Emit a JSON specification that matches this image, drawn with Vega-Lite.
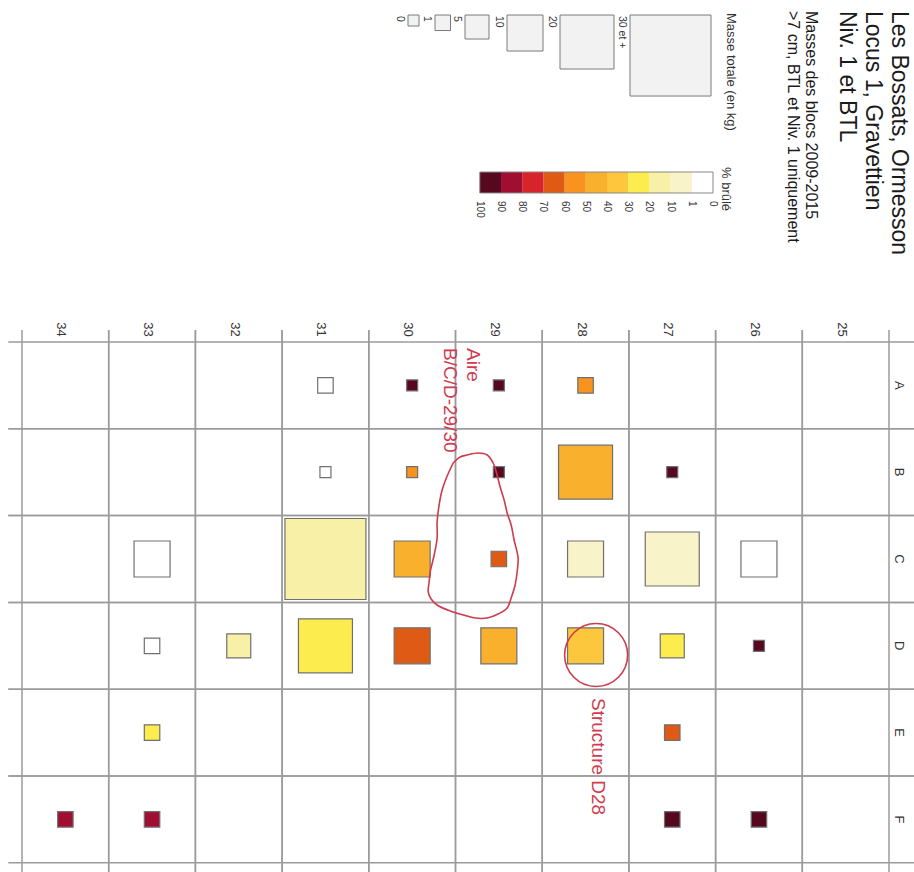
{
  "$schema": "https://vega.github.io/schema/vega-lite/v6.json",
  "width": 914,
  "height": 872,
  "autosize": {"type": "none"},
  "padding": 0,
  "background": "white",
  "config": {"view": {"stroke": null}, "font": "Liberation Sans", "axis": {"disable": true}},
  "title": {
    "text": ["Les Bossats, Ormesson", "Locus 1, Gravettien", "Niv. 1 et BTL"],
    "subtitle": ["Masses des blocs 2009-2015", ">7 cm, BTL et Niv. 1 uniquement"],
    "orient": "right",
    "anchor": "start",
    "frame": "group",
    "offset": -131,
    "dx": 11,
    "font": "Liberation Sans",
    "fontSize": 23,
    "fontWeight": "normal",
    "color": "#1a1a1a",
    "lineHeight": 26,
    "subtitleFont": "Liberation Sans",
    "subtitleFontSize": 16,
    "subtitleColor": "#1a1a1a",
    "subtitleLineHeight": 18,
    "subtitlePadding": 16
  },
  "datasets": {
    "blocs": [
      {"col": 28, "ligne": "A", "masse": "1-5", "brule": "50-60"},
      {"col": 29, "ligne": "A", "masse": "0-1", "brule": "90-100"},
      {"col": 30, "ligne": "A", "masse": "0-1", "brule": "90-100"},
      {"col": 31, "ligne": "A", "masse": "1-5", "brule": "0"},
      {"col": 27, "ligne": "B", "masse": "0-1", "brule": "90-100"},
      {"col": 28, "ligne": "B", "masse": "20-30", "brule": "40-50"},
      {"col": 29, "ligne": "B", "masse": "0-1", "brule": "90-100"},
      {"col": 30, "ligne": "B", "masse": "0-1", "brule": "50-60"},
      {"col": 31, "ligne": "B", "masse": "0-1", "brule": "0"},
      {"col": 26, "ligne": "C", "masse": "10-20", "brule": "0"},
      {"col": 27, "ligne": "C", "masse": "20-30", "brule": "1-10"},
      {"col": 28, "ligne": "C", "masse": "10-20", "brule": "1-10"},
      {"col": 29, "ligne": "C", "masse": "1-5", "brule": "60-70"},
      {"col": 30, "ligne": "C", "masse": "10-20", "brule": "40-50"},
      {"col": 31, "ligne": "C", "masse": "30+", "brule": "10-20"},
      {"col": 33, "ligne": "C", "masse": "10-20", "brule": "0"},
      {"col": 26, "ligne": "D", "masse": "0-1", "brule": "90-100"},
      {"col": 27, "ligne": "D", "masse": "5-10", "brule": "20-30"},
      {"col": 28, "ligne": "D", "masse": "10-20", "brule": "30-40"},
      {"col": 29, "ligne": "D", "masse": "10-20", "brule": "40-50"},
      {"col": 30, "ligne": "D", "masse": "10-20", "brule": "60-70"},
      {"col": 31, "ligne": "D", "masse": "20-30", "brule": "20-30"},
      {"col": 32, "ligne": "D", "masse": "5-10", "brule": "10-20"},
      {"col": 33, "ligne": "D", "masse": "1-5", "brule": "0"},
      {"col": 27, "ligne": "E", "masse": "1-5", "brule": "60-70"},
      {"col": 33, "ligne": "E", "masse": "1-5", "brule": "20-30"},
      {"col": 26, "ligne": "F", "masse": "1-5", "brule": "90-100"},
      {"col": 27, "ligne": "F", "masse": "1-5", "brule": "90-100"},
      {"col": 33, "ligne": "F", "masse": "1-5", "brule": "80-90"},
      {"col": 34, "ligne": "F", "masse": "1-5", "brule": "80-90"}
    ],
    "lignes": [
      {"ligne": "A", "rang": 1}, {"ligne": "B", "rang": 2}, {"ligne": "C", "rang": 3},
      {"ligne": "D", "rang": 4}, {"ligne": "E", "rang": 5}, {"ligne": "F", "rang": 6}
    ],
    "colonnes": [
      {"col": 25}, {"col": 26}, {"col": 27}, {"col": 28}, {"col": 29},
      {"col": 30}, {"col": 31}, {"col": 32}, {"col": 33}, {"col": 34}
    ],
    "notes": [
      {"texte": "Aire\nB/C/D-29/30", "col": 29.2, "rang": 0.569},
      {"texte": "Structure D28", "col": 27.758, "rang": 4.601}
    ],
    "reperes": [
      {"nom": "Structure D28", "col": 27.878, "rang": 4.106}
    ],
    "boucle": [
      {"ordre": 1, "col": 29.527, "rang": 1.894},
      {"ordre": 2, "col": 29.446, "rang": 1.825},
      {"ordre": 3, "col": 29.366, "rang": 1.802},
      {"ordre": 4, "col": 29.239, "rang": 1.779},
      {"ordre": 5, "col": 29.135, "rang": 1.802},
      {"ordre": 6, "col": 29.066, "rang": 1.894},
      {"ordre": 7, "col": 29.02, "rang": 2.032},
      {"ordre": 8, "col": 28.985, "rang": 2.171},
      {"ordre": 9, "col": 28.939, "rang": 2.32},
      {"ordre": 10, "col": 28.904, "rang": 2.47},
      {"ordre": 11, "col": 28.858, "rang": 2.608},
      {"ordre": 12, "col": 28.824, "rang": 2.781},
      {"ordre": 13, "col": 28.778, "rang": 2.988},
      {"ordre": 14, "col": 28.789, "rang": 3.15},
      {"ordre": 15, "col": 28.812, "rang": 3.3},
      {"ordre": 16, "col": 28.858, "rang": 3.449},
      {"ordre": 17, "col": 28.904, "rang": 3.565},
      {"ordre": 18, "col": 29.008, "rang": 3.634},
      {"ordre": 19, "col": 29.135, "rang": 3.68},
      {"ordre": 20, "col": 29.273, "rang": 3.68},
      {"ordre": 21, "col": 29.412, "rang": 3.645},
      {"ordre": 22, "col": 29.562, "rang": 3.599},
      {"ordre": 23, "col": 29.712, "rang": 3.53},
      {"ordre": 24, "col": 29.781, "rang": 3.461},
      {"ordre": 25, "col": 29.815, "rang": 3.38},
      {"ordre": 26, "col": 29.804, "rang": 3.265},
      {"ordre": 27, "col": 29.792, "rang": 3.15},
      {"ordre": 28, "col": 29.746, "rang": 2.954},
      {"ordre": 29, "col": 29.712, "rang": 2.758},
      {"ordre": 30, "col": 29.712, "rang": 2.574},
      {"ordre": 31, "col": 29.689, "rang": 2.378},
      {"ordre": 32, "col": 29.654, "rang": 2.205},
      {"ordre": 33, "col": 29.596, "rang": 2.044},
      {"ordre": 34, "col": 29.527, "rang": 1.894}
    ],
    "classes_masse": [
      {"masse": "0-1", "seuil": 0, "etiquette": "0"},
      {"masse": "1-5", "seuil": 1, "etiquette": "1"},
      {"masse": "5-10", "seuil": 5, "etiquette": "5"},
      {"masse": "10-20", "seuil": 10, "etiquette": "10"},
      {"masse": "20-30", "seuil": 20, "etiquette": "20"},
      {"masse": "30+", "seuil": 30, "etiquette": "30 et +"}
    ],
    "classes_brule": [
      {"brule": "0", "de": 0, "a": 1},
      {"brule": "1-10", "de": 1, "a": 10},
      {"brule": "10-20", "de": 10, "a": 20},
      {"brule": "20-30", "de": 20, "a": 30},
      {"brule": "30-40", "de": 30, "a": 40},
      {"brule": "40-50", "de": 40, "a": 50},
      {"brule": "50-60", "de": 50, "a": 60},
      {"brule": "60-70", "de": 60, "a": 70},
      {"brule": "70-80", "de": 70, "a": 80},
      {"brule": "80-90", "de": 80, "a": 90},
      {"brule": "90-100", "de": 90, "a": 100}
    ],
    "graduations": [
      {"pct": 0}, {"pct": 1}, {"pct": 10}, {"pct": 20}, {"pct": 30}, {"pct": 40},
      {"pct": 50}, {"pct": 60}, {"pct": 70}, {"pct": 80}, {"pct": 90}, {"pct": 100}
    ]
  },
  "layer": [
    {
      "layer": [
        {
          "data": {"name": "lignes"},
          "transform": [{"calculate": "datum.rang - 0.5", "as": "bord"}],
          "mark": {"type": "rule", "color": "#9b9b9b", "strokeWidth": 1.5},
          "encoding": {
            "y": {"field": "bord", "type": "quantitative", "axis": null, "scale": {"domain": [0.5, 6.5], "range": [342, 862.8], "nice": false, "zero": false}},
            "x": {"datum": 34.658, "type": "quantitative", "axis": null, "scale": {"domain": [24.5, 34.5], "range": [889, 22], "nice": false, "zero": false}},
            "x2": {"datum": 24.2}
          }
        },
        {
          "data": {"name": "lignes"},
          "transform": [{"calculate": "datum.rang + 0.5", "as": "bord"}],
          "mark": {"type": "rule", "color": "#9b9b9b", "strokeWidth": 1.5},
          "encoding": {
            "y": {"field": "bord", "type": "quantitative", "axis": null},
            "x": {"datum": 34.658, "type": "quantitative", "axis": null},
            "x2": {"datum": 24.2}
          }
        },
        {
          "data": {"name": "colonnes"},
          "transform": [{"calculate": "datum.col - 0.5", "as": "bord"}],
          "mark": {"type": "rule", "color": "#9b9b9b", "strokeWidth": 1.5},
          "encoding": {
            "x": {"field": "bord", "type": "quantitative", "axis": null},
            "y": {"datum": 0.362, "type": "quantitative", "axis": null},
            "y2": {"datum": 7}
          }
        },
        {
          "data": {"name": "colonnes"},
          "transform": [{"calculate": "datum.col + 0.5", "as": "bord"}],
          "mark": {"type": "rule", "color": "#9b9b9b", "strokeWidth": 1.5},
          "encoding": {
            "x": {"field": "bord", "type": "quantitative", "axis": null},
            "y": {"datum": 0.362, "type": "quantitative", "axis": null},
            "y2": {"datum": 7}
          }
        },
        {
          "data": {"name": "blocs"},
          "transform": [
            {"lookup": "ligne", "from": {"data": {"name": "lignes"}, "key": "ligne", "fields": ["rang"]}},
            {"lookup": "masse", "from": {"data": {"name": "classes_masse"}, "key": "masse", "fields": ["seuil"]}}
          ],
          "mark": {"type": "point", "shape": "square", "filled": true, "opacity": 1, "stroke": "#707070", "strokeWidth": 1.2},
          "encoding": {
            "x": {"field": "col", "type": "quantitative", "axis": null},
            "y": {"field": "rang", "type": "quantitative", "axis": null},
            "size": {"field": "seuil", "type": "quantitative", "legend": null,
              "scale": {"domain": [0, 1, 5, 10, 20, 30], "range": [121, 240, 576, 1296, 2916, 6561], "nice": false, "zero": false}},
            "color": {"field": "brule", "type": "ordinal", "legend": null,
              "scale": {"domain": ["0", "1-10", "10-20", "20-30", "30-40", "40-50", "50-60", "60-70", "70-80", "80-90", "90-100"],
                "range": ["#ffffff", "#f8f3c8", "#f9f0a8", "#fdec4e", "#fcc73c", "#f9b02c", "#f7931e", "#df5a14", "#d8232a", "#a00f31", "#56081f"]}}
          }
        },
        {
          "data": {"name": "colonnes"},
          "mark": {"type": "text", "angle": 90, "align": "center", "baseline": "middle", "fontSize": 13, "color": "#333333", "dy": 4},
          "encoding": {
            "x": {"field": "col", "type": "quantitative", "axis": null},
            "y": {"datum": 0.356, "type": "quantitative", "axis": null},
            "text": {"field": "col", "type": "nominal"}
          }
        },
        {
          "data": {"name": "lignes"},
          "mark": {"type": "text", "angle": 90, "align": "center", "baseline": "middle", "fontSize": 13, "color": "#333333"},
          "encoding": {
            "x": {"datum": 24.385, "type": "quantitative", "axis": null},
            "y": {"field": "rang", "type": "quantitative", "axis": null},
            "text": {"field": "ligne", "type": "nominal"}
          }
        },
        {
          "data": {"values": [{"titre": "Masse totale (en kg)"}]},
          "mark": {"type": "text", "angle": 90, "align": "left", "baseline": "middle", "fontSize": 13, "color": "#333333"},
          "encoding": {
            "x": {"datum": 26.322, "type": "quantitative", "axis": null},
            "y": {"datum": -3.29, "type": "quantitative", "axis": null},
            "text": {"field": "titre", "type": "nominal"}
          }
        },
        {
          "data": {"values": [{"titre": "% brûlé"}]},
          "mark": {"type": "text", "angle": 90, "align": "left", "baseline": "middle", "fontSize": 13, "color": "#333333"},
          "encoding": {
            "x": {"datum": 26.379, "type": "quantitative", "axis": null},
            "y": {"datum": -1.516, "type": "quantitative", "axis": null},
            "text": {"field": "titre", "type": "nominal"}
          }
        },
        {
          "data": {"name": "boucle"},
          "mark": {"type": "line", "color": "#cf3a4c", "strokeWidth": 1.6, "interpolate": "catmull-rom"},
          "encoding": {
            "x": {"field": "col", "type": "quantitative", "axis": null},
            "y": {"field": "rang", "type": "quantitative", "axis": null},
            "order": {"field": "ordre", "type": "quantitative"}
          }
        },
        {
          "data": {"name": "reperes"},
          "mark": {"type": "point", "shape": "circle", "filled": false, "opacity": 1, "stroke": "#cf3a4c", "strokeWidth": 1.6, "size": 3969},
          "encoding": {
            "x": {"field": "col", "type": "quantitative", "axis": null},
            "y": {"field": "rang", "type": "quantitative", "axis": null}
          }
        },
        {
          "data": {"name": "notes"},
          "mark": {"type": "text", "angle": 90, "align": "left", "baseline": "top", "fontSize": 19, "lineHeight": 23, "lineBreak": "\n", "color": "#d13b50"},
          "encoding": {
            "x": {"field": "col", "type": "quantitative", "axis": null},
            "y": {"field": "rang", "type": "quantitative", "axis": null},
            "text": {"field": "texte", "type": "nominal"}
          }
        }
      ]
    },
    {
      "layer": [
        {
          "data": {"name": "classes_masse"},
          "mark": {"type": "point", "shape": "M0,0H2V2H0Z", "filled": true, "opacity": 1, "fill": "#f2f2f2", "stroke": "#7a7a7a", "strokeWidth": 1},
          "encoding": {
            "x": {"field": "seuil", "type": "quantitative", "axis": null, "scale": {"domain": [0, 1, 5, 10, 20, 30], "range": [408, 435, 465, 507, 560, 630], "nice": false, "zero": false}},
            "y": {"datum": -3.267, "type": "quantitative", "axis": null},
            "size": {"field": "seuil", "type": "quantitative", "legend": null}
          }
        },
        {
          "data": {"name": "classes_masse"},
          "mark": {"type": "text", "angle": 90, "align": "left", "baseline": "middle", "fontSize": 10.5, "color": "#333333", "dy": 8, "dx": 1},
          "encoding": {
            "x": {"field": "seuil", "type": "quantitative", "axis": null},
            "y": {"datum": -3.267, "type": "quantitative", "axis": null},
            "text": {"field": "etiquette", "type": "nominal"}
          }
        }
      ]
    },
    {
      "layer": [
        {
          "data": {"name": "classes_brule"},
          "mark": {"type": "rect"},
          "encoding": {
            "x": {"field": "de", "type": "quantitative", "axis": null, "scale": {"domain": [0, 1, 10, 20, 30, 40, 50, 60, 70, 80, 90, 100], "range": [713, 691.8, 670.6, 649.4, 628.2, 607, 585.8, 564.6, 543.4, 522.2, 501, 479.8], "nice": false, "zero": false}},
            "x2": {"field": "a"},
            "y": {"datum": -1.4585, "type": "quantitative", "axis": null},
            "y2": {"datum": -1.2166},
            "color": {"field": "brule", "type": "ordinal", "legend": null}
          }
        },
        {
          "data": {"name": "classes_brule"},
          "transform": [{"aggregate": [{"op": "min", "field": "de", "as": "de"}, {"op": "max", "field": "a", "as": "a"}]}],
          "mark": {"type": "rect", "fill": null, "fillOpacity": 0, "stroke": "#888888", "strokeWidth": 1},
          "encoding": {
            "x": {"field": "de", "type": "quantitative", "axis": null},
            "x2": {"field": "a"},
            "y": {"datum": -1.4585, "type": "quantitative", "axis": null},
            "y2": {"datum": -1.2166}
          }
        },
        {
          "data": {"name": "graduations"},
          "mark": {"type": "text", "angle": 90, "align": "left", "baseline": "middle", "fontSize": 10, "color": "#333333"},
          "encoding": {
            "x": {"field": "pct", "type": "quantitative", "axis": null},
            "y": {"datum": -1.1244, "type": "quantitative", "axis": null},
            "text": {"field": "pct", "type": "nominal"}
          }
        }
      ]
    }
  ],
  "resolve": {"scale": {"x": "independent"}}
}
